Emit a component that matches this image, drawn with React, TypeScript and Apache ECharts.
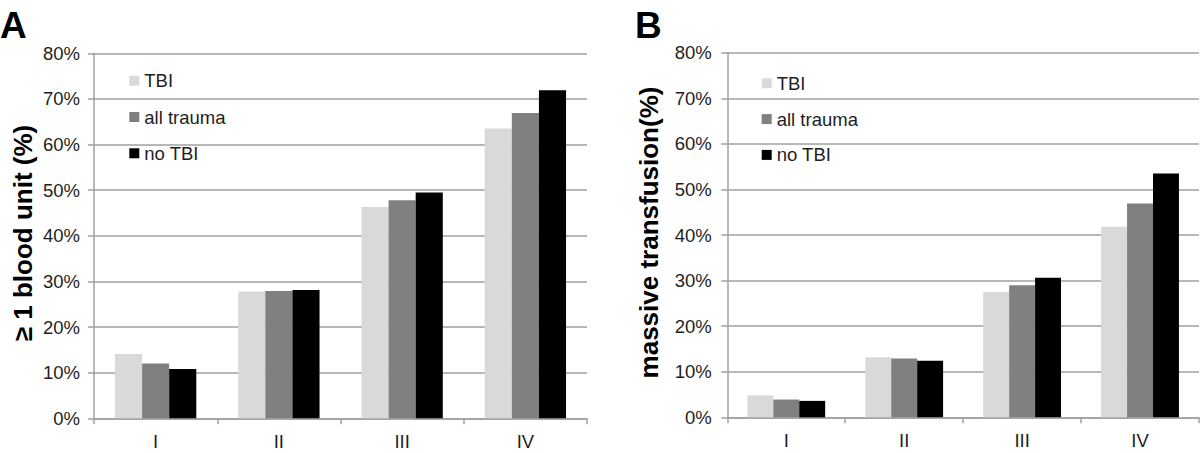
import React, { useEffect, useRef } from "react";
import * as echarts from "echarts";

const categories = ["I", "II", "III", "IV"];
const seriesNames = ["TBI", "all trauma", "no TBI"];
const seriesColors = ["#d9d9d9", "#808080", "#000000"];

// Panel A: >= 1 blood unit (%)
const bloodTBI = [14.1, 27.8, 46.3, 63.5];
const bloodAllTrauma = [12.0, 27.9, 47.8, 66.9];
const bloodNoTBI = [10.8, 28.1, 49.5, 71.9];

// Panel B: massive transfusion (%)
const massiveTBI = [4.8, 13.2, 27.5, 41.8];
const massiveAllTrauma = [3.9, 12.9, 29.0, 46.9];
const massiveNoTBI = [3.6, 12.4, 30.6, 53.5];

const yMin = 0;
const yMax = 80;
const yInterval = 10;

const titleA = "≥ 1 blood unit (%)";
const titleB = "massive transfusion(%)";

const FONT = "'Liberation Sans', Arial, Helvetica, sans-serif";
const TEXT = "#1e1e1e";
const LINE = "#a0a0a0";

export default function App() {
  const ref = useRef<HTMLDivElement>(null);

  useEffect(() => {
    if (!ref.current) return;
    const chart = echarts.init(ref.current, undefined, { renderer: "svg" });

    const xAxisBase = (gridIndex: number) => ({
      type: "category" as const,
      gridIndex,
      data: categories,
      boundaryGap: true,
      axisLine: { show: true, lineStyle: { color: LINE, width: 1.5 } },
      axisTick: { show: true, length: 6, lineStyle: { color: LINE, width: 1.5 } },
      axisLabel: { color: TEXT, fontSize: 18.5, fontFamily: FONT, margin: 14 },
      splitLine: { show: false },
    });

    const yAxisBase = (gridIndex: number, margin: number) => ({
      type: "value" as const,
      gridIndex,
      min: yMin,
      max: yMax,
      interval: yInterval,
      axisLine: { show: true, lineStyle: { color: LINE, width: 1.5 } },
      axisTick: { show: true, length: 6, lineStyle: { color: LINE, width: 1.5 } },
      axisLabel: {
        color: TEXT,
        fontSize: 18.5,
        fontFamily: FONT,
        margin,
        formatter: "{value}%",
      },
      splitLine: { show: true, lineStyle: { color: LINE, width: 1.5 } },
    });

    const mkSeries = (data: number[], idx: number, axisIndex: number) => ({
      type: "bar" as const,
      name: seriesNames[idx],
      xAxisIndex: axisIndex,
      yAxisIndex: axisIndex,
      data,
      barGap: "0%",
      barCategoryGap: "34%",
      itemStyle: { color: seriesColors[idx] },
    });

    const legendBase = {
      orient: "vertical" as const,
      itemWidth: 10,
      itemHeight: 10,
      padding: 0,
      icon: "rect",
      selectedMode: false,
      data: seriesNames,
      textStyle: { color: TEXT, fontSize: 18.5, fontFamily: FONT, lineHeight: 20 },
    };

    chart.setOption({
      animation: false,
      backgroundColor: "#ffffff",
      textStyle: { fontFamily: FONT },
      grid: [
        { left: 94, top: 53.3, width: 493, height: 365, containLabel: false },
        { left: 727.3, top: 52.7, width: 471.7, height: 364.6, containLabel: false },
      ],
      xAxis: [xAxisBase(0), xAxisBase(1)],
      yAxis: [yAxisBase(0, 14), yAxisBase(1, 15.5)],
      legend: [
        { ...legendBase, left: 129.3, top: 70.7, itemGap: 16.3 },
        { ...legendBase, left: 761.7, top: 73.3, itemGap: 15.8 },
      ],
      series: [
        mkSeries(bloodTBI, 0, 0),
        mkSeries(bloodAllTrauma, 1, 0),
        mkSeries(bloodNoTBI, 2, 0),
        mkSeries(massiveTBI, 0, 1),
        mkSeries(massiveAllTrauma, 1, 1),
        mkSeries(massiveNoTBI, 2, 1),
      ],
      graphic: [
        {
          type: "text",
          left: 0,
          top: 7,
          style: { text: "A", fontSize: 37, fontWeight: "bold", fontFamily: FONT, fill: "#000" },
        },
        {
          type: "text",
          left: 635,
          top: 7,
          style: { text: "B", fontSize: 37, fontWeight: "bold", fontFamily: FONT, fill: "#000" },
        },
        {
          type: "text",
          x: 23,
          y: 233,
          rotation: Math.PI / 2,
          style: {
            text: titleA,
            fontSize: 26,
            fontWeight: "bold",
            fontFamily: FONT,
            fill: "#000",
            align: "center",
            verticalAlign: "middle",
          },
        },
        {
          type: "text",
          x: 649,
          y: 232.5,
          rotation: Math.PI / 2,
          style: {
            text: titleB,
            fontSize: 26,
            fontWeight: "bold",
            fontFamily: FONT,
            fill: "#000",
            align: "center",
            verticalAlign: "middle",
          },
        },
      ],
    });

    return () => chart.dispose();
  }, []);

  return (
    <div
      ref={ref}
      style={{ position: "fixed", left: 0, top: 0, width: 1200, height: 453, background: "#fff" }}
    />
  );
}
